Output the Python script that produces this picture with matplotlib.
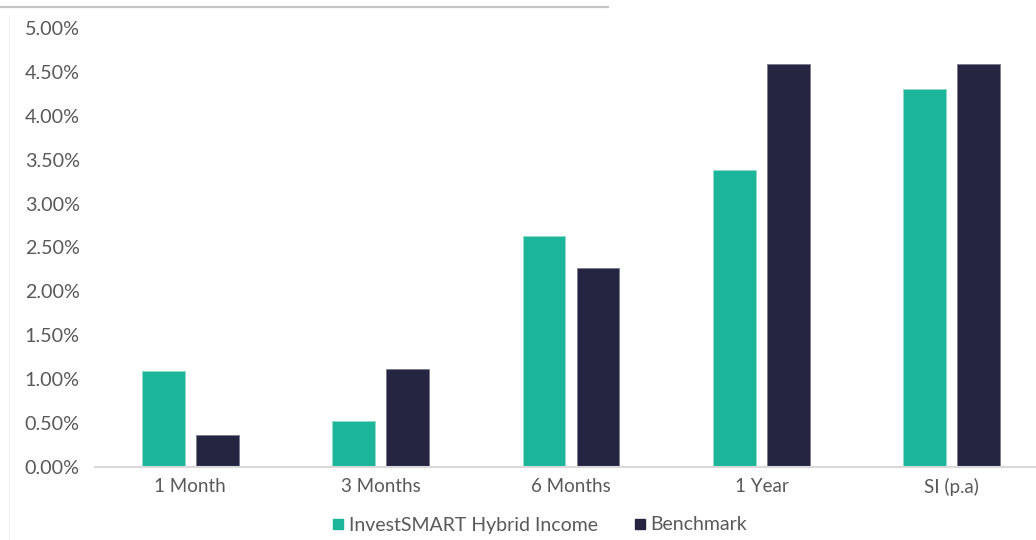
import numpy as np
import matplotlib
matplotlib.use("Agg")
import matplotlib.pyplot as plt
from matplotlib.lines import Line2D
from matplotlib.ticker import FuncFormatter

# ── data ──────────────────────────────────────────────────────────────────────
categories = ["1 Month", "3 Months", "6 Months", "1 Year", "SI (p.a)"]
fund_returns = [1.09, 0.52, 2.63, 3.38, 4.31]
benchmark_returns = [0.37, 1.12, 2.27, 4.59, 4.59]
series_names = ["InvestSMART Hybrid Income", "Benchmark"]
# ─────────────────────────────────────────────────────────────────────────────

GREEN = "#1bb59a"
NAVY = "#252542"
TEXT = "#595959"

plt.rcParams["font.family"] = ["Lato", "DejaVu Sans"]

fig = plt.figure(figsize=(10.36, 5.40), dpi=100)
ax = fig.add_axes([95 / 1036, 1 - 467 / 540, 952 / 1036, (467 - 28) / 540])

x = np.arange(len(categories))
w = 0.225
off = 0.142
ax.bar(x - off, fund_returns, w, color=GREEN, edgecolor="#8fdcca", linewidth=0.6)
ax.bar(x + off, benchmark_returns, w, color=NAVY, edgecolor="#7a7a90", linewidth=0.6)

ax.set_xlim(-0.5, len(categories) - 0.5)
ax.set_ylim(0, 5)
ax.set_yticks(np.arange(0, 5.01, 0.5))
ax.yaxis.set_major_formatter(FuncFormatter(lambda v, _: f"{v:.2f}%"))
ax.set_xticks(x)
ax.set_xticklabels(categories)

for s in ["top", "right", "left"]:
    ax.spines[s].set_visible(False)
ax.spines["bottom"].set_color("#d9d9d9")
ax.spines["bottom"].set_linewidth(1.5)
ax.tick_params(axis="y", length=0, labelsize=14.2, colors=TEXT, pad=11)
ax.tick_params(axis="x", length=0, labelsize=13.5, colors=TEXT, pad=8)

handles = [Line2D([], [], ls="none", marker="s", markersize=7.5, color=GREEN),
           Line2D([], [], ls="none", marker="s", markersize=7.5, color=NAVY)]
fig.legend(handles, series_names, loc="center", bbox_to_anchor=(540 / 1036, 1 - 525 / 540),
           ncol=2, frameon=False, fontsize=14, labelcolor=TEXT,
           handlelength=0.55, handletextpad=0.25, columnspacing=1.9)

# crop edges left in the source image
fig.add_artist(Line2D([0, 608 / 1036], [1 - 7 / 540] * 2, color="#c4c4c4", lw=1.6))
fig.add_artist(Line2D([9 / 1036] * 2, [0, 1 - 15 / 540], color="#f2f2f2", lw=0.8))

fig.savefig("out.png", dpi=100)
